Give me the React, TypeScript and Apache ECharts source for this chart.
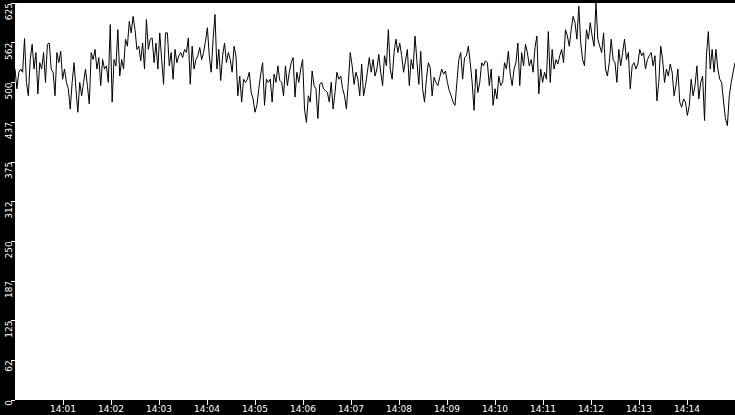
import React, { useEffect, useRef } from "react";
import * as echarts from "echarts";

// readings, about one every 2.5 s, split into 2.5 minute stretches
const part1 = [521, 490, 516, 521, 516, 569, 500, 479, 536, 560, 521, 547, 482, 531, 521, 547, 500, 560, 562, 521, 516, 479, 547, 531, 549, 505, 521, 500, 490, 458, 500, 531, 490, 453, 500, 479, 500, 521, 495, 466, 547, 536, 552, 521, 539, 495, 536, 521, 526, 500, 591, 469, 536, 526, 583, 510, 536, 521, 568, 557, 596];
const part2 = [578, 604, 583, 552, 557, 534, 562, 521, 599, 552, 568, 570, 531, 562, 521, 578, 536, 497, 578, 578, 526, 547, 505, 552, 531, 542, 547, 539, 552, 547, 570, 497, 557, 521, 536, 542, 555, 536, 547, 565, 586, 542, 516, 568, 607, 521, 552, 503, 542, 562, 531, 547, 536, 516, 557, 542, 479, 510, 469, 505, 500];
const part3 = [505, 516, 484, 474, 453, 464, 490, 513, 531, 464, 505, 500, 505, 469, 513, 500, 526, 503, 500, 479, 526, 495, 516, 531, 539, 477, 516, 500, 521, 536, 458, 437, 479, 469, 518, 495, 490, 443, 497, 500, 490, 487, 484, 469, 500, 458, 484, 516, 505, 510, 490, 479, 458, 500, 547, 526, 497, 516, 505, 479, 529, 479, 495, 516, 539, 516];
const part4 = [536, 510, 521, 544, 516, 495, 542, 526, 583, 521, 505, 547, 568, 547, 562, 542, 516, 534, 552, 495, 536, 521, 573, 534, 497, 549, 490, 469, 505, 531, 523, 479, 508, 500, 495, 508, 521, 513, 518, 500, 487, 479, 469, 464, 500, 536, 547, 505, 539, 542, 557, 531, 500, 456, 521, 484, 500, 531, 526, 534, 531, 495, 521, 464];
const part5 = [490, 474, 510, 495, 500, 531, 521, 549, 513, 495, 521, 531, 562, 495, 547, 526, 560, 547, 526, 536, 516, 555, 573, 482, 521, 500, 516, 505, 580, 500, 552, 521, 536, 529, 542, 552, 531, 583, 573, 557, 583, 604, 594, 568, 620, 562, 536, 526, 583, 568, 594, 573, 557, 625, 568, 557, 547, 578, 521, 510, 531, 568, 536];
const part6 = [531, 500, 552, 526, 547, 568, 536, 547, 490, 526, 531, 521, 529, 552, 542, 547, 521, 536, 542, 547, 526, 542, 471, 500, 557, 536, 500, 521, 510, 529, 516, 479, 495, 521, 469, 461, 474, 469, 448, 464, 505, 479, 495, 526, 474, 500, 510, 440, 542, 580, 521, 552, 516, 552, 521, 505, 500, 469, 443, 432, 479, 500, 516, 531];

const minuteLabels = ["14:00", "14:01", "14:02", "14:03", "14:04", "14:05", "14:06", "14:07", "14:08", "14:09", "14:10", "14:11", "14:12", "14:13", "14:14", "14:15"];
const yTickLabels = ["0", "62", "125", "187", "250", "312", "375", "437", "500", "562", "625"];

const App: React.FC = () => {
  const chartRef = useRef<HTMLDivElement | null>(null);

  useEffect(() => {
    if (!chartRef.current) return;
    const chart = echarts.init(chartRef.current, undefined, { renderer: "svg" });

    const values = [...part1, ...part2, ...part3, ...part4, ...part5, ...part6];
    const span = (minuteLabels.length - 1) * 60;
    const points = values.map((v, i) => [(i * span) / (values.length - 1), v]);

    chart.setOption({
      animation: false,
      backgroundColor: "#000",
      grid: {
        left: 15,
        right: 0,
        top: 0,
        bottom: 15,
        show: true,
        backgroundColor: "#fff",
        borderWidth: 0,
      },
      xAxis: {
        type: "value",
        min: 0,
        max: span,
        interval: 60,
        axisLine: { show: false },
        splitLine: { show: false },
        axisTick: { show: true, length: 5, lineStyle: { color: "#fff" } },
        axisLabel: {
          color: "#fff",
          fontFamily: "DejaVu Sans",
          fontSize: 9,
          margin: 4,
          showMinLabel: false,
          showMaxLabel: false,
          formatter: (v: number) => minuteLabels[Math.round(v / 60)],
        },
      },
      yAxis: {
        type: "value",
        min: 0,
        max: 625,
        interval: 62.5,
        axisLine: { show: false },
        splitLine: { show: false },
        axisTick: { show: true, length: 4, lineStyle: { color: "#fff" } },
        axisLabel: {
          color: "#fff",
          fontFamily: "DejaVu Sans",
          fontSize: 9,
          rotate: 90,
          margin: 2,
          align: "right",
          verticalAlign: "bottom",
          formatter: (v: number) => yTickLabels[Math.round(v / 62.5)],
        },
      },
      series: [
        {
          type: "line",
          data: points,
          symbol: "none",
          lineStyle: { color: "#000", width: 1 },
        },
      ],
    });

    return () => {
      chart.dispose();
    };
  }, []);

  return (
    <div
      ref={chartRef}
      style={{ position: "absolute", left: 0, top: 0, width: "735px", height: "415px" }}
    />
  );
};

export default App;
